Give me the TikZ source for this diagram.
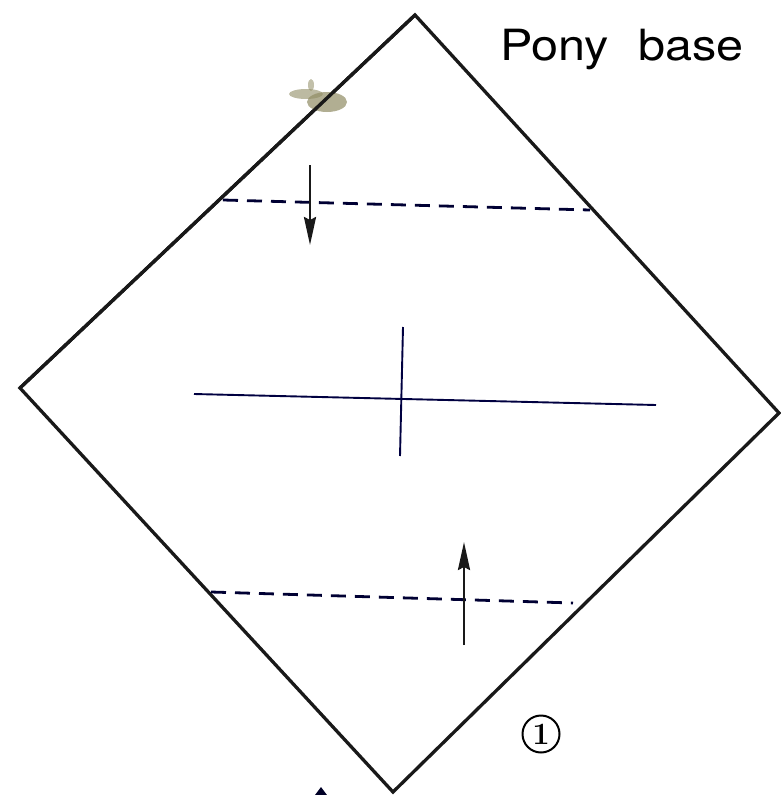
\documentclass[tikz,border=0pt]{standalone}
\usepackage{fontspec}
\newfontfamily\heros{TeX Gyre Heros}
\usetikzlibrary{arrows.meta}
\tikzset{
  edgeline/.style={line width=3.3pt, line join=miter, black!90},
  foldline/.style={line width=2.8pt, dash pattern=on 15pt off 9pt, black!80!blue},
  creaseline/.style={line width=1.9pt, black!75!blue},
  movearrow/.style={line width=2.6pt, -{Stealth[length=28pt,width=12pt,inset=3pt]}, black!90},
}
\begin{document}
\begin{tikzpicture}[x=1pt,y=-1pt]
\useasboundingbox (0,0) rectangle (781,795);
% diamond vertices
\coordinate (T) at (415,15);
\coordinate (L) at (20,388);
\coordinate (R) at (779,413);
\coordinate (B) at (393,792);
\draw[edgeline] (T) -- (R) -- (B) -- (L) -- cycle;
% smudge (scan artefact)
\fill[gray!70!olive, opacity=0.7] (327,102) ellipse (20pt and 10pt);
\fill[gray!70!olive, opacity=0.6] (306,94) ellipse (17pt and 5pt);
\fill[gray!70!olive, opacity=0.55] (311,85) ellipse (3pt and 6pt);
\draw[edgeline] (T) -- (L);
% upper valley fold
\coordinate (u1) at (223,200);
\coordinate (u2) at (590,210);
\draw[foldline] (u1) -- (u2);
\coordinate (da1) at (310,165);
\coordinate (da2) at (310,245);
\draw[movearrow] (da1) -- (da2);
% lower valley fold
\coordinate (l1) at (211,592);
\coordinate (l2) at (573,603);
\draw[foldline] (l1) -- (l2);
\coordinate (ua1) at (464,645);
\coordinate (ua2) at (464,542);
\draw[movearrow] (ua1) -- (ua2);
% centre creases
\coordinate (h1) at (194,394);
\coordinate (h2) at (656,405);
\draw[creaseline] (h1) -- (h2);
\coordinate (v1) at (403,327);
\coordinate (v2) at (400,456);
\draw[creaseline] (v1) -- (v2);
% title
\node[anchor=base west, inner sep=0pt, font=\heros\fontsize{43}{43}\selectfont, xscale=1.13] (title) at (500,60) {Pony\hspace{26pt}base};
% step number
\node[circle, draw, line width=2pt, minimum size=37pt, inner sep=0pt] (step1) at (541,734) {};
\node[inner sep=0pt, font=\fontsize{31}{31}\selectfont\bfseries] (step1num) at (step1.center) {1};
% partial arrow tip at bottom edge
\fill[black!85!blue] (321,787) -- (327,795) -- (315,795) -- cycle;
\end{tikzpicture}
\end{document}
